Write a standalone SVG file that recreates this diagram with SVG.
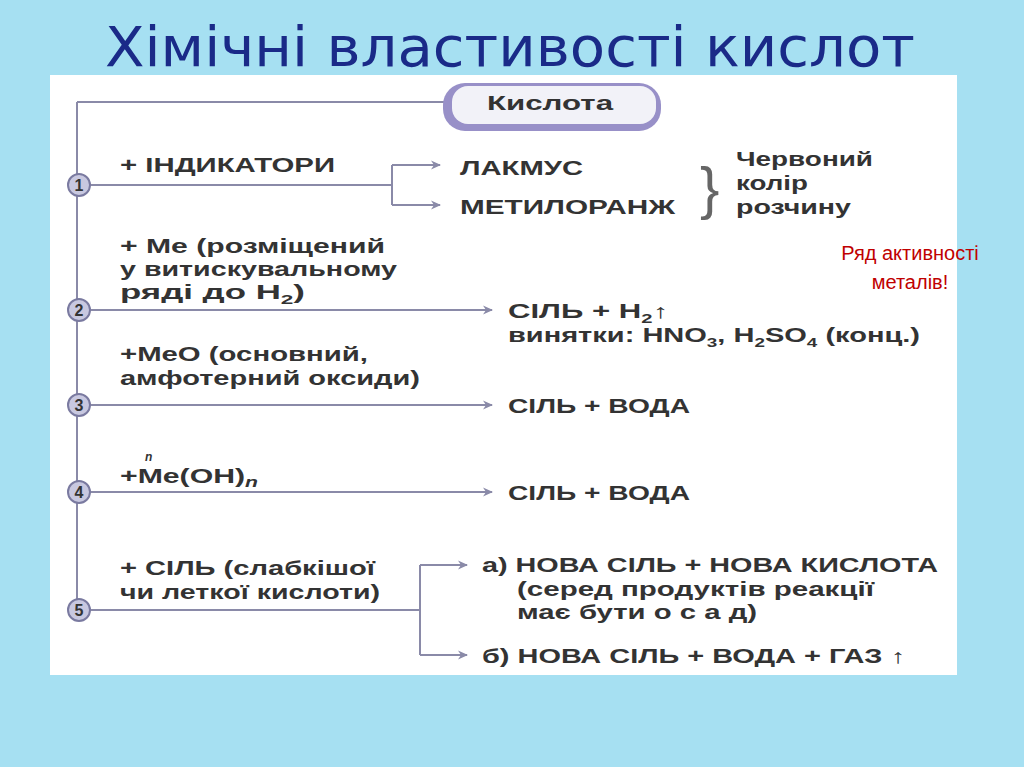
<svg xmlns="http://www.w3.org/2000/svg" width="1024" height="767" viewBox="0 0 1024 767">
<defs>
<marker id="ar" viewBox="0 0 10 10" refX="9" refY="5" markerWidth="14" markerHeight="10" orient="auto" markerUnits="userSpaceOnUse"><path d="M0,0.5 L10,5 L0,9.5 L3,5 Z" fill="#8a8aa8"/></marker>
</defs>
<style>
.t{font-family:"Liberation Sans",Arial,sans-serif;font-weight:bold;font-size:20px;fill:#333}
.ln{stroke:#8a8aa8;stroke-width:2;fill:none}
.c{fill:#c8c8e0;stroke:#7a7aa0;stroke-width:2}
.n{font-family:"Liberation Sans",Arial,sans-serif;font-weight:bold;font-size:16px;fill:#333;text-anchor:middle}
</style>
<rect width="1024" height="767" fill="#a6e0f2"/>
<text x="105" y="66" textLength="810" lengthAdjust="spacingAndGlyphs" font-family="DejaVu Sans,sans-serif" font-size="56" fill="#1a2a88">Хімічні властивості кислот</text>
<rect x="50" y="75" width="907" height="600" fill="#fff"/>
<g id="connectors">
<path class="ln" d="M77,102 H450 M77,102 V612"/>
<path class="ln" d="M90,185 H392 M392,165 V205"/>
<path class="ln" d="M392,165 H440" marker-end="url(#ar)"/>
<path class="ln" d="M392,205 H440" marker-end="url(#ar)"/>
<path class="ln" d="M90,310 H492" marker-end="url(#ar)"/>
<path class="ln" d="M90,405 H492" marker-end="url(#ar)"/>
<path class="ln" d="M90,492 H492" marker-end="url(#ar)"/>
<path class="ln" d="M90,610 H420 M420,565 V655"/>
<path class="ln" d="M420,565 H467" marker-end="url(#ar)"/>
<path class="ln" d="M420,655 H467" marker-end="url(#ar)"/>
</g>
<g id="kislota"><rect x="443" y="83" width="218" height="48" rx="22" fill="#9890c8"/><rect x="452" y="86" width="204" height="38" rx="16" fill="#f2f2f8"/><text class="t" x="487" y="110" font-size="18" textLength="126" lengthAdjust="spacingAndGlyphs">Кислота</text></g>
<g id="n1"><circle class="c" cx="79" cy="185" r="11"/><text class="n" x="79" y="191">1</text>
<text class="t" x="120" y="172" textLength="215" lengthAdjust="spacingAndGlyphs">+ ІНДИКАТОРИ</text>
<text class="t" x="460" y="175" textLength="123" lengthAdjust="spacingAndGlyphs">ЛАКМУС</text>
<text class="t" x="460" y="214" textLength="215" lengthAdjust="spacingAndGlyphs">МЕТИЛОРАНЖ</text>
<text x="700" y="208" font-family="Liberation Sans,sans-serif" font-size="58" fill="#666">}</text>
<text class="t" x="736" y="166" textLength="137" lengthAdjust="spacingAndGlyphs">Червоний</text>
<text class="t" x="736" y="190" textLength="72" lengthAdjust="spacingAndGlyphs">колір</text>
<text class="t" x="736" y="214" textLength="115" lengthAdjust="spacingAndGlyphs">розчину</text></g>
<g id="n2"><circle class="c" cx="79" cy="310" r="11"/><text class="n" x="79" y="316">2</text>
<text class="t" x="120" y="253" textLength="265" lengthAdjust="spacingAndGlyphs">+ Ме (розміщений</text>
<text class="t" x="120" y="276" textLength="277" lengthAdjust="spacingAndGlyphs">у витискувальному</text>
<text class="t" x="120" y="299" textLength="185" lengthAdjust="spacingAndGlyphs">ряді до Н<tspan font-size="13" dy="5">2</tspan><tspan dy="-5">)</tspan></text>
<text class="t" x="508" y="318" textLength="160" lengthAdjust="spacingAndGlyphs">СІЛЬ + Н<tspan font-size="13" dy="5">2</tspan><tspan dy="-5">↑</tspan></text>
<text class="t" x="508" y="342" textLength="412" lengthAdjust="spacingAndGlyphs">винятки: HNO<tspan font-size="13" dy="5">3</tspan><tspan dy="-5">, H</tspan><tspan font-size="13" dy="5">2</tspan><tspan dy="-5">SO</tspan><tspan font-size="13" dy="5">4</tspan><tspan dy="-5"> (конц.)</tspan></text></g>
<g id="n3"><circle class="c" cx="79" cy="405" r="11"/><text class="n" x="79" y="411">3</text>
<text class="t" x="120" y="361" textLength="248" lengthAdjust="spacingAndGlyphs">+МеО (основний,</text>
<text class="t" x="120" y="385" textLength="300" lengthAdjust="spacingAndGlyphs">амфотерний оксиди)</text>
<text class="t" x="508" y="413" textLength="182" lengthAdjust="spacingAndGlyphs">СІЛЬ + ВОДА</text></g>
<g id="n4"><circle class="c" cx="79" cy="492" r="11"/><text class="n" x="79" y="498">4</text>
<text class="t" x="120" y="483" textLength="138" lengthAdjust="spacingAndGlyphs">+Ме(OH)<tspan font-size="14" font-style="italic" dy="4">n</tspan></text>
<text x="145" y="461" font-family="Liberation Sans,sans-serif" font-size="12" font-style="italic" font-weight="bold" fill="#333">n</text>
<text class="t" x="508" y="500" textLength="182" lengthAdjust="spacingAndGlyphs">СІЛЬ + ВОДА</text></g>
<g id="n5"><circle class="c" cx="79" cy="610" r="11"/><text class="n" x="79" y="616">5</text>
<text class="t" x="120" y="575" textLength="255" lengthAdjust="spacingAndGlyphs">+ СІЛЬ (слабкішої</text>
<text class="t" x="120" y="599" textLength="260" lengthAdjust="spacingAndGlyphs">чи леткої кислоти)</text>
<text class="t" x="482" y="572" textLength="456" lengthAdjust="spacingAndGlyphs">а) НОВА СІЛЬ + НОВА КИСЛОТА</text>
<text class="t" x="517" y="596" textLength="357" lengthAdjust="spacingAndGlyphs">(серед продуктів реакції</text>
<text class="t" x="517" y="619" textLength="240" lengthAdjust="spacingAndGlyphs">має бути о с а д)</text>
<text class="t" x="482" y="663" textLength="423" lengthAdjust="spacingAndGlyphs">б) НОВА СІЛЬ + ВОДА + ГАЗ ↑</text></g>
<g id="note"><text x="910" y="260" text-anchor="middle" font-family="Liberation Sans,sans-serif" font-size="20" fill="#c00000">Ряд активності</text><text x="910" y="289" text-anchor="middle" font-family="Liberation Sans,sans-serif" font-size="20" fill="#c00000">металів!</text></g>
</svg>
